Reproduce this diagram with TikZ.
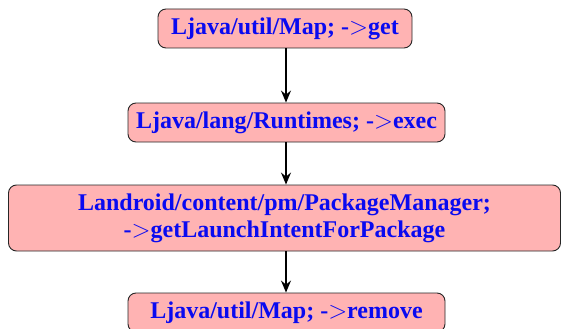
\documentclass[tikz,border=0pt]{standalone}
\usepackage{fontspec}
\setmainfont{Liberation Serif}
\usetikzlibrary{arrows.meta}
\definecolor{boxfill}{HTML}{FFB3B3}
\definecolor{txtblue}{HTML}{0A0AF0}
\newcommand{\gtsym}{\textmd{$>$}}
\begin{document}
\begin{tikzpicture}[x=1pt,y=-1pt,
  fnode/.style={draw=black!85, line width=0.9pt, fill=boxfill, rounded corners=8pt,
    text=txtblue, font=\fontsize{24}{27}\selectfont\bfseries, align=center, inner sep=0pt},
  conn/.style={-{Stealth[length=12pt,width=10pt,inset=4pt]}, line width=1.4pt, black}]
\useasboundingbox (0,0) rectangle (562,329);
\node[fnode, minimum width=254pt, minimum height=39pt] (a) at (285,28.5) {Ljava/util/Map; -\gtsym get};
\node[fnode, minimum width=317pt, minimum height=39pt] (b) at (286.5,122.5) {Ljava/lang/Runtimes; -\gtsym exec};
\node[fnode, minimum width=552pt, minimum height=66pt] (c) at (284.5,218) {Landroid/content/pm/PackageManager;\\ -\gtsym getLaunchIntentForPackage};
\node[fnode, minimum width=317pt, minimum height=39pt] (d) at (286.5,312.5) {Ljava/util/Map; -\gtsym remove};
\draw[conn] (a.south -| 286,0) -- (b.north -| 286,0);
\draw[conn] (b.south -| 286,0) -- (c.north -| 286,0);
\draw[conn] (c.south -| 286,0) -- (d.north -| 286,0);
\end{tikzpicture}
\end{document}
